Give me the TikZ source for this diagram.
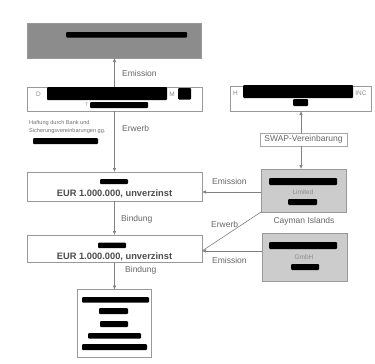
\documentclass[tikz,border=0pt]{standalone}
\usepackage{fontspec}
\setmainfont{Liberation Sans}
\usetikzlibrary{arrows.meta}
\begin{document}
\begin{tikzpicture}[x=1pt,y=-1pt,
  lbl/.style={font=\fontsize{8.5}{9}\selectfont, text=black!60, inner sep=0},
  box/.style={draw=black!40, line width=0.6pt, fill=white, inner sep=0, outer sep=0},
  graybox/.style={box, fill=black!20},
  conn/.style={draw=black!50, line width=0.6pt},
  arr/.style={conn, -{Latex[length=4pt,width=3.5pt]}},
  bar/.style={fill=black, rounded corners=1pt},
  faint/.style={font=\fontsize{6.5}{7}\selectfont, text=black!45, inner sep=0},
  eur/.style={font=\bfseries\fontsize{9.3}{10}\selectfont, text=black!70, inner sep=0}]
\useasboundingbox (0,0) rectangle (375,364);
\fill[white] (0,0) rectangle (375,364);

% left column boxes
\node[box, fill=black!45, minimum width=174, minimum height=35] (top) at (114.5,40.5) {};
\node[box, minimum width=175, minimum height=24] (b2) at (114.5,99) {};
\node[box, minimum width=175, minimum height=29] (b4) at (114.5,186.5) {};
\node[box, minimum width=175, minimum height=27] (b5) at (114.5,248.5) {};
\node[box, minimum width=74, minimum height=68] (b6) at (114.5,323.5) {};

% right column boxes
\node[box, minimum width=141, minimum height=25] (b3) at (300.5,98.5) {};
\node[box, draw=black!35, minimum width=87, minimum height=13,
      font=\fontsize{8.5}{9}\selectfont, text=black!60] (swap) at (303.5,139.5) {SWAP-Vereinbarung};
\node[graybox, minimum width=85, minimum height=43] (cay) at (303.5,190.5) {};
\node[graybox, minimum width=85, minimum height=48] (gmbh) at (304.5,257) {};

% redaction bars
\fill[bar] (66,32) rectangle (187,37.5);
\fill[bar] (47,87) rectangle (167,100);
\fill[bar] (178,88) rectangle (191,99.5);
\fill[bar] (90,102) rectangle (148,108);
\fill[bar] (243,85) rectangle (353,98);
\fill[bar] (293,99) rectangle (308,106);
\fill[bar] (33,138) rectangle (98,144);
\fill[bar] (100,179) rectangle (128,184);
\fill[bar] (269,178) rectangle (337,185);
\fill[bar] (288,199) rectangle (317,205);
\fill[bar] (98,242.5) rectangle (126,248);
\fill[bar] (269,242) rectangle (337,249);
\fill[bar] (291,264) rectangle (319,270);
\fill[bar] (82,297) rectangle (149,302.5);
\fill[bar] (99,308) rectangle (128,314);
\fill[bar] (100,321) rectangle (128,327);
\fill[bar] (88,333) rectangle (141,338.5);
\fill[bar] (82,344) rectangle (147,350);

% small letters in boxes
\node[faint, font=\fontsize{6.5}{7}\selectfont] (dl) at (38.5,94) {D};
\node[faint] (ml) at (172,94) {M};
\node[faint, font=\fontsize{5}{6}\selectfont] (tl) at (87,105) {T};
\node[faint] (hl) at (235.5,93) {H};
\node[faint] (incl) at (361,93) {INC};
\node[faint] (ltd) at (303,192) {Limited};
\node[faint] (gmbhl) at (304,257) {GmbH};

% free texts
\node[font=\fontsize{5.6}{8.5}\selectfont, text=black!55, anchor=north west, align=left, inner sep=0]
  (haft) at (29,120) {Haftung durch Bank und\\Sicherungsvereinbarungen gg.};
\node[lbl] (cayl) at (304,221.5) {Cayman Islands};
\node[eur] (eur1) at (114.5,194) {EUR 1.000.000, unverzinst};
\node[eur] (eur2) at (114.5,256.5) {EUR 1.000.000, unverzinst};

% connectors
\coordinate (sx) at (301,0);
\coordinate (e1) at (0,192);
\coordinate (e2) at (0,251);
\draw[arr] (b2.north) -- (top.south);
\draw[arr] (b2.south) -- (b4.north);
\draw[arr] (b4.south) -- (b5.north);
\draw[arr] (b5.south) -- (b6.north);
\draw[arr] (swap.north -| sx) -- (b3.south -| sx);
\draw[arr] (swap.south -| sx) -- (cay.north -| sx);
\draw[arr] (cay.west |- e1) -- (b4.east |- e1);
\draw[conn] (cay.south west) -- (b5.east |- e2);
\draw[arr] (gmbh.west |- e2) -- (b5.east |- e2);

% connector labels
\node[lbl, anchor=west] (l1) at (122,73) {Emission};
\node[lbl, anchor=west] (l2) at (122,128) {Erwerb};
\node[lbl, anchor=west] (l3) at (212,181) {Emission};
\node[lbl, anchor=west] (l4) at (121,219) {Bindung};
\node[lbl, anchor=west] (l5) at (211,224) {Erwerb};
\node[lbl, anchor=west] (l6) at (212,260.5) {Emission};
\node[lbl, anchor=west] (l7) at (125,270.5) {Bindung};
\end{tikzpicture}
\end{document}
